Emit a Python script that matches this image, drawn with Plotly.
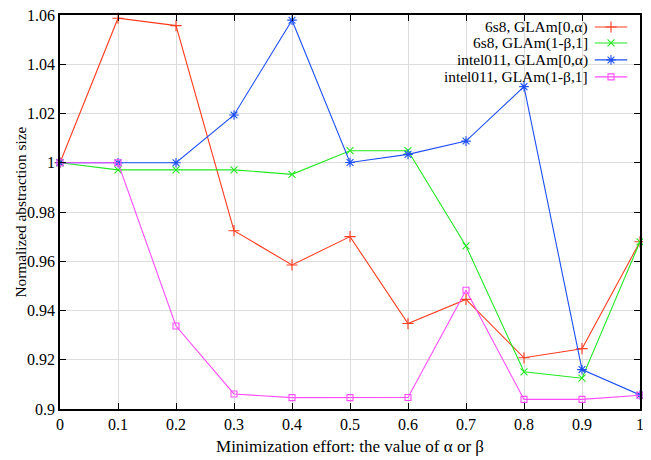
import plotly.graph_objects as go

x_vals = [0, 0.1, 0.2, 0.3, 0.4, 0.5, 0.6, 0.7, 0.8, 0.9, 1.0]

s6s8_glam_alpha = [1.0, 1.0587, 1.0557, 0.9724, 0.9585, 0.9700, 0.9347, 0.9445, 0.9208, 0.9245, 0.9679]
s6s8_glam_beta = [1.0, 0.9971, 0.9971, 0.9971, 0.9953, 1.0049, 1.0049, 0.9662, 0.9151, 0.9125, 0.9679]
intel011_glam_alpha = [1.0, 1.0, 1.0, 1.0194, 1.0579, 1.0001, 1.0034, 1.0088, 1.0309, 0.9160, 0.9057]
intel011_glam_beta = [1.0, 1.0, 0.9337, 0.9061, 0.9046, 0.9046, 0.9047, 0.9482, 0.9039, 0.9039, 0.9056]

series_names = ["6s8, GLAm[0,α)", "6s8, GLAm(1-β,1]", "intel011, GLAm[0,α)", "intel011, GLAm(1-β,1]"]
series_values = [s6s8_glam_alpha, s6s8_glam_beta, intel011_glam_alpha, intel011_glam_beta]
colors = ["#ff3c20", "#22e822", "#1d4ff5", "#ff4cff"]
symbols = ["cross-thin", "x-thin", "asterisk", "square-open"]
sizes = [8, 7, 8, 6]

x_ticks = [0, 0.1, 0.2, 0.3, 0.4, 0.5, 0.6, 0.7, 0.8, 0.9, 1]
x_ticktext = ["0", "0.1", "0.2", "0.3", "0.4", "0.5", "0.6", "0.7", "0.8", "0.9", "1"]
y_ticks = [0.9, 0.92, 0.94, 0.96, 0.98, 1.0, 1.02, 1.04, 1.06]
y_ticktext = ["0.9", "0.92", "0.94", "0.96", "0.98", "1", "1.02", "1.04", "1.06"]

x_title = "Minimization effort: the value of α or β"
y_title = "Normalized abstraction size"

FONT = "Liberation Serif"
FS = 16

fig = go.Figure()
for name, vals, c, sym, sz in zip(series_names, series_values, colors, symbols, sizes):
    fig.add_trace(go.Scatter(
        x=x_vals, y=vals, mode="lines+markers", name=name,
        line=dict(color=c, width=1.1),
        marker=dict(symbol=sym, size=sz, color=c, line=dict(color=c, width=1.1)),
        showlegend=False, cliponaxis=False,
    ))

# custom legend (gnuplot style: text right, sample on the right)
legend_rows_y = [0.9695, 0.929, 0.886, 0.843]
text_right = 0.9103
line_x0, line_x1 = 0.922, 0.978
marker_x = (line_x0 + line_x1) / 2
for name, c, sym, sz, ry in zip(series_names, colors, symbols, sizes, legend_rows_y):
    fig.add_annotation(x=text_right, y=ry, xref="paper", yref="paper", text=name,
                       showarrow=False, xanchor="right", yanchor="middle",
                       xshift=2, font=dict(family=FONT, size=15.4, color="black"))
    fig.add_shape(type="line", xref="paper", yref="paper", x0=line_x0, x1=line_x1, y0=ry, y1=ry,
                  line=dict(color=c, width=1.1))
    fig.add_trace(go.Scatter(
        x=[marker_x], y=[ry], xaxis="x2", yaxis="y2", mode="markers",
        marker=dict(symbol=sym, size=sz, color=c, line=dict(color=c, width=1.1)),
        showlegend=False, hoverinfo="skip",
    ))

# y-axis title as a rotated annotation for exact placement
fig.add_annotation(x=-0.0698, y=0.5, xref="paper", yref="paper", text=y_title,
                   showarrow=False, textangle=-90, xanchor="center", yanchor="middle",
                   font=dict(family=FONT, size=15.3, color="black"))

axis_common = dict(
    showline=True, linecolor="black", linewidth=1.5, mirror="allticks",
    ticks="inside", ticklen=6, tickcolor="black", tickwidth=1,
    showgrid=True, gridcolor="#dcdcdc", gridwidth=1, zeroline=False,
    tickfont=dict(family=FONT, size=FS, color="black"),
    automargin=False, ticklabeloverflow="allow",
)

# the page body has an 8px default margin, so margins are shifted by 8px
fig.update_layout(
    width=651, height=460,
    margin=dict(l=52, r=19, t=7, b=59),
    paper_bgcolor="white", plot_bgcolor="white",
    font=dict(family=FONT, size=FS, color="black"),
    xaxis=dict(range=[0, 1], tickvals=x_ticks, ticktext=x_ticktext,
               title=dict(text=x_title, standoff=8, font=dict(family=FONT, size=17)),
               **axis_common),
    yaxis=dict(range=[0.9, 1.06], tickvals=y_ticks, ticktext=y_ticktext,
               **axis_common),
    xaxis2=dict(range=[0, 1], overlaying="x", visible=False, fixedrange=True),
    yaxis2=dict(range=[0, 1], overlaying="y", visible=False, fixedrange=True),
    showlegend=False,
)

fig.write_html("out.html")
